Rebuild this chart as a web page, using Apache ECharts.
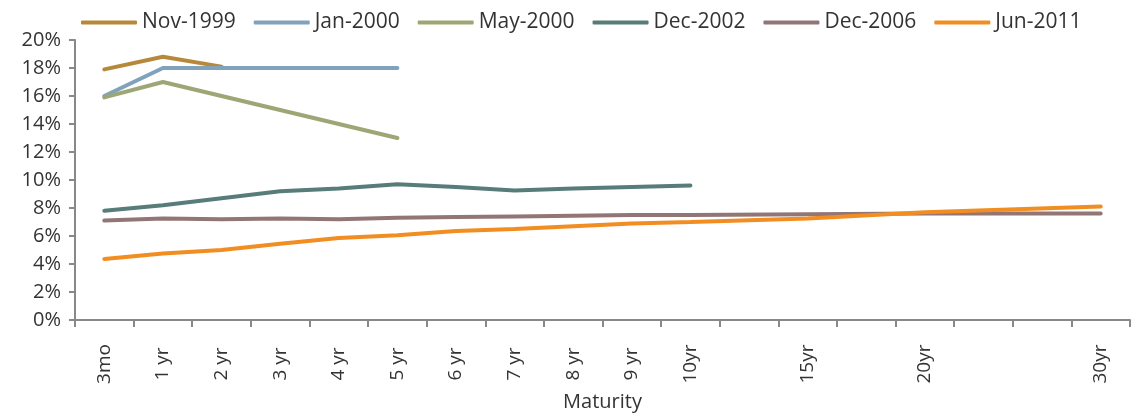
<!DOCTYPE html>
<html>
<head>
<meta charset="utf-8">
<script src="https://cdn.jsdelivr.net/npm/echarts@6/dist/echarts.min.js"></script>
<style>
  html, body { margin: 0; padding: 0; background: #fff; }
  #chart { width: 1144px; height: 415px; }
</style>
</head>
<body>
<div id="chart"></div>
<script>
// maturities, blanks keep the spacing of the long end
const maturities = ['3mo', '1 yr', '2 yr', '3 yr', '4 yr', '5 yr', '6 yr', '7 yr', '8 yr', '9 yr', '10yr', '', '15yr', '', '20yr', '', '', '30yr']
const yTicks = [0, 2, 4, 6, 8, 10, 12, 14, 16, 18, 20]

const nov1999 = [17.9, 18.8, 18.1]
const jan2000 = [16.0, 18.0, 18.0, 18.0, 18.0, 18.0]
const may2000 = [15.9, 17.0, 16.0, 15.0, 14.0, 13.0]
const dec2002 = [7.8, 8.2, 8.7, 9.2, 9.4, 9.7, 9.5, 9.25, 9.4, 9.5, 9.6]
const dec2006 = [7.1, 7.25, 7.2, 7.25, 7.2, 7.3, 7.35, 7.4, 7.45, 7.5, 7.5, null, 7.55, null, 7.6, null, null, 7.6]
const jun2011 = [4.35, 4.75, 5.0, 5.45, 5.85, 6.05, 6.35, 6.5, 6.7, 6.9, 7.0, null, 7.25, null, 7.7, null, null, 8.1]

const names = ['Nov-1999', 'Jan-2000', 'May-2000', 'Dec-2002', 'Dec-2006', 'Jun-2011']
const colors = ['#B8883A', '#80A2BA', '#9DA776', '#577C79', '#927676', '#F28D22']
const values = [nov1999, jan2000, may2000, dec2002, dec2006, jun2011]

const font = 'Open Sans'
const chart = echarts.init(document.getElementById('chart'))

chart.setOption({
  animation: false,
  color: colors,
  textStyle: { fontFamily: font },
  legend: {
    top: 7,
    left: 76,
    itemWidth: 56,
    itemHeight: 4,
    itemGap: 18,
    icon: 'roundRect',
    textStyle: { fontSize: 21, color: '#333', fontFamily: font },
    data: names
  },
  grid: { left: 75, right: 14, top: 40, bottom: 95, outerBoundsMode: 'none' },
  xAxis: {
    type: 'category',
    data: maturities,
    boundaryGap: true,
    name: 'Maturity',
    nameLocation: 'middle',
    nameGap: 72,
    nameTextStyle: { fontSize: 20, color: '#333', fontFamily: font },
    axisLine: { lineStyle: { color: '#888', width: 2 } },
    axisTick: { show: true, interval: 0, length: 7, lineStyle: { color: '#888', width: 2 } },
    axisLabel: {
      interval: 0,
      rotate: 90,
      align: 'center',
      verticalAlign: 'middle',
      margin: 44,
      fontSize: 19,
      color: '#333',
      fontFamily: font
    }
  },
  yAxis: {
    type: 'value',
    min: yTicks[0],
    max: yTicks[yTicks.length - 1],
    interval: 2,
    axisLine: { show: true, lineStyle: { color: '#888', width: 2 } },
    axisTick: { show: true, length: 6, lineStyle: { color: '#888', width: 2 } },
    splitLine: { show: false },
    axisLabel: {
      formatter: '{value}%',
      fontSize: 20,
      color: '#333',
      margin: 14,
      fontFamily: font
    }
  },
  series: names.map((n, i) => ({
    name: n,
    type: 'line',
    data: values[i],
    showSymbol: false,
    symbol: 'none',
    connectNulls: true,
    lineStyle: { width: 4, color: colors[i], cap: 'round' },
    itemStyle: { color: colors[i] }
  }))
})
</script>
</body>
</html>
